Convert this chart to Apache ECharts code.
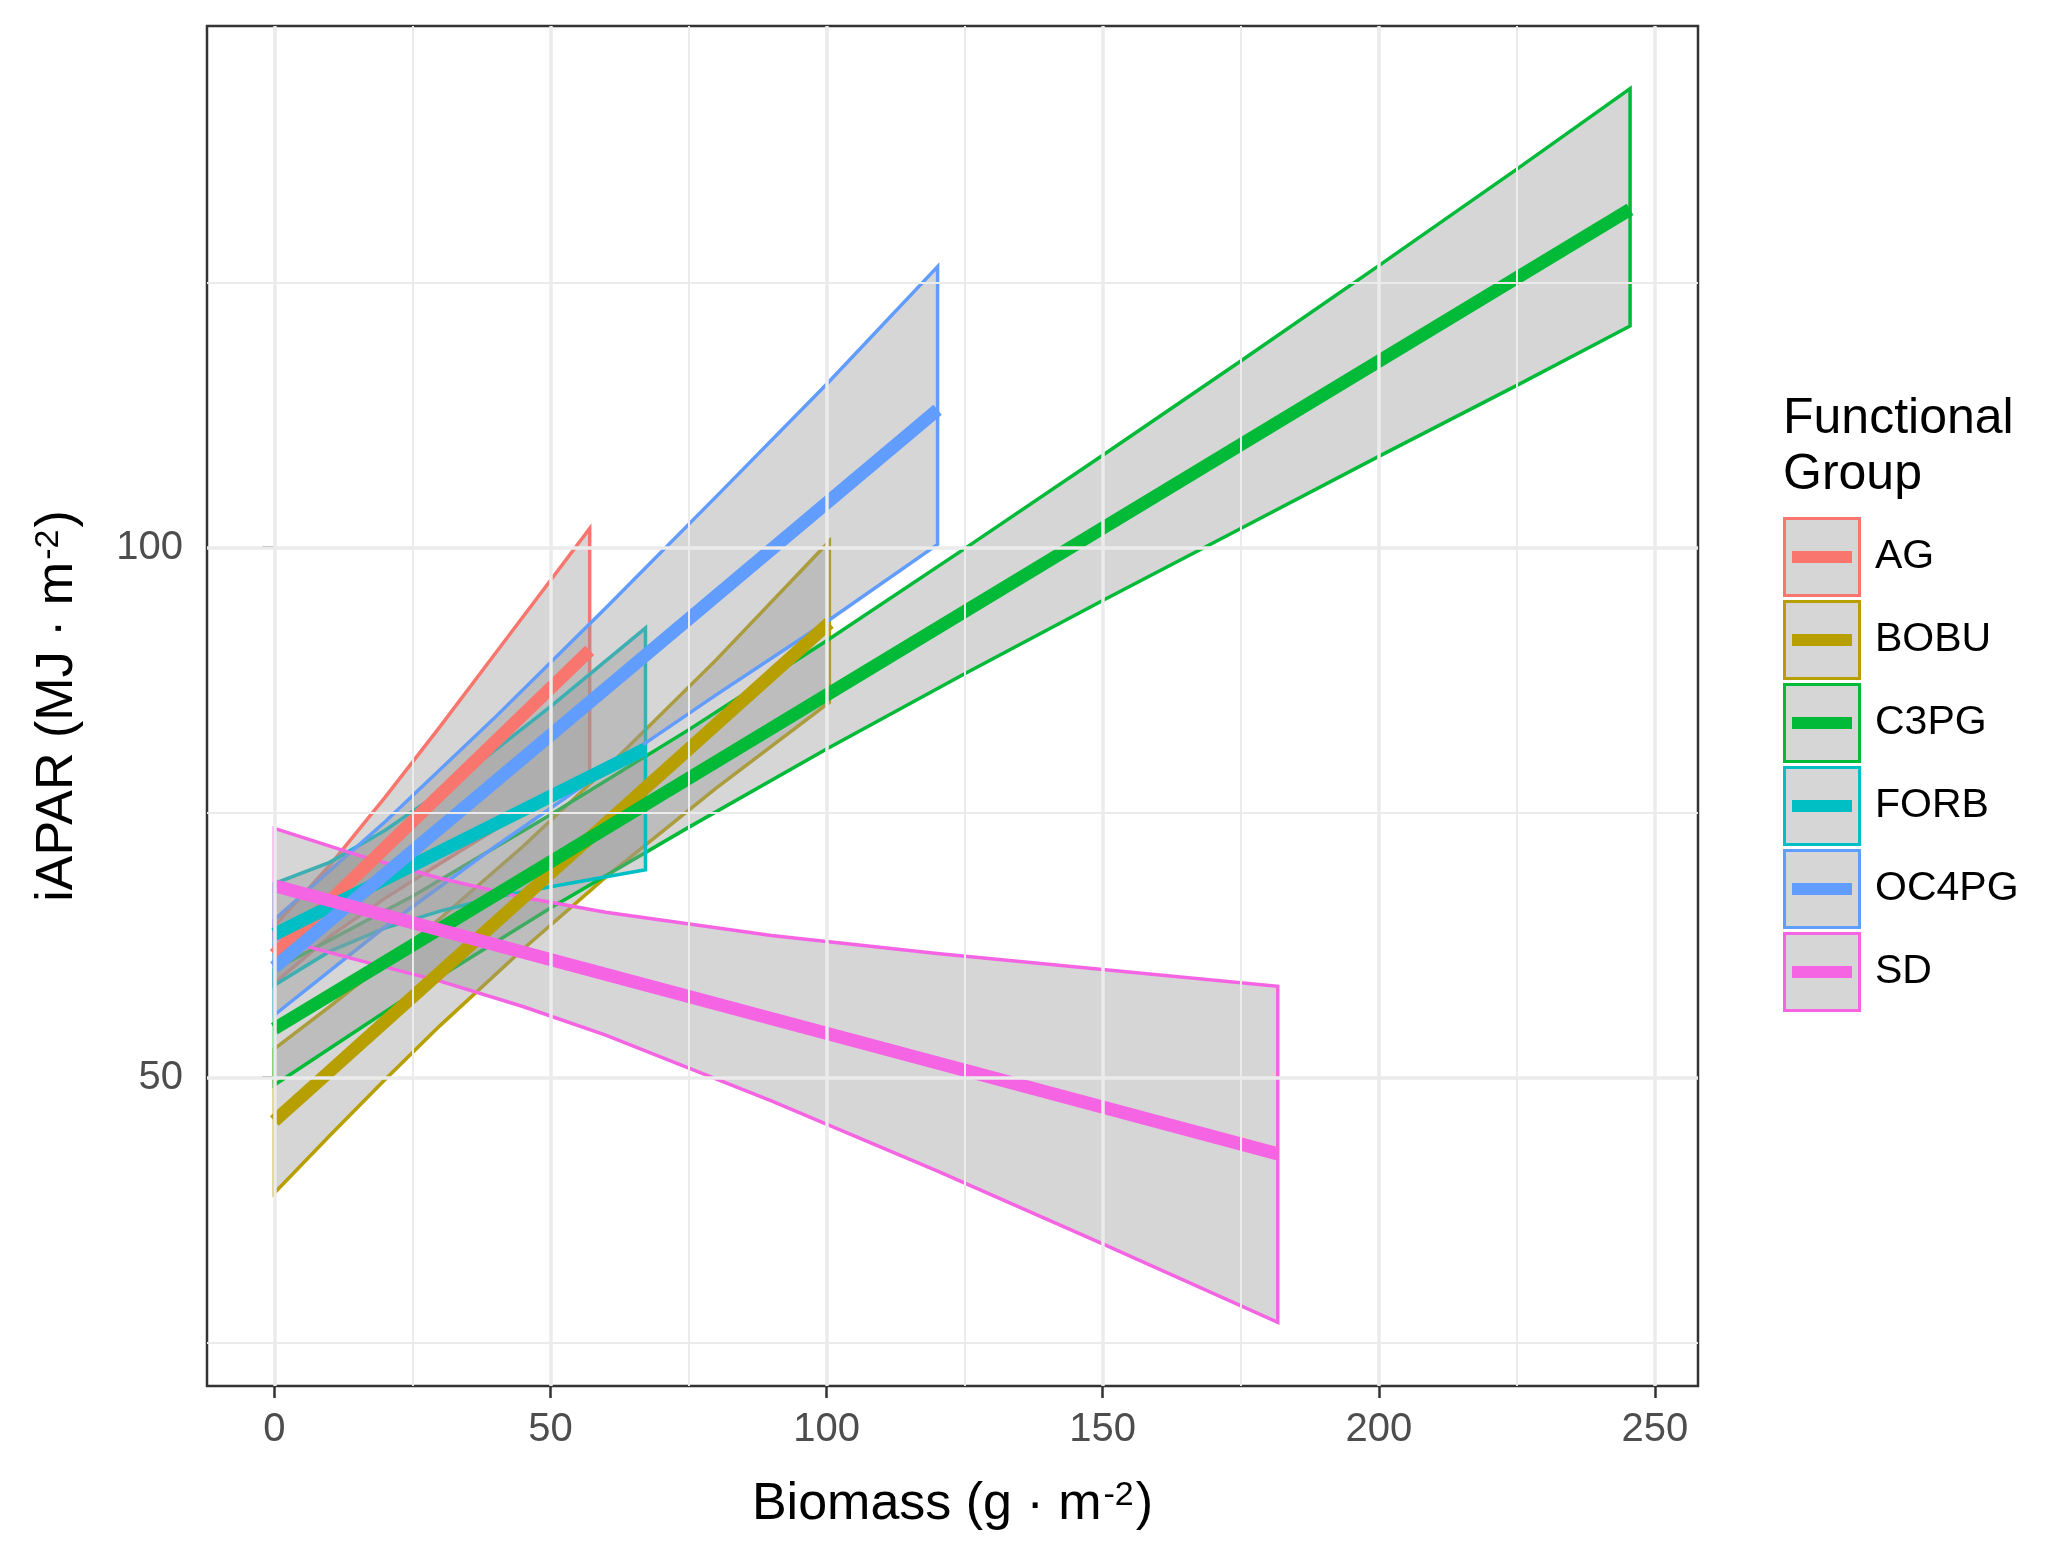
<!DOCTYPE html>
<html>
<head>
<meta charset="utf-8">
<script src="https://cdn.jsdelivr.net/npm/echarts@6/dist/echarts.min.js"></script>
<style>
  html, body { margin: 0; padding: 0; background: #ffffff; }
  #chart { width: 2045px; height: 1550px; }
</style>
</head>
<body>
<div id="chart"></div>
<script>
// ---- Data ----
const groups = ['AG', 'BOBU', 'C3PG', 'FORB', 'OC4PG', 'SD'];
const groupColors = ['#F8766D', '#B79F00', '#00BA38', '#00BFC4', '#619CFF', '#F564E3'];

// ribbon samples: x positions, lower and upper confidence edges; fit line end points
const AG_x = [0, 10, 20, 30, 40, 57.1];
const AG_lo = [58.9, 63.3, 66.9, 70.2, 73.4, 78.8];
const AG_hi = [64.3, 70.0, 76.4, 83.1, 90.0, 101.8];
const AG_fit = [[0, 61.6], [57.1, 90.3]];

const BOBU_x = [0, 10, 20, 30, 45, 60, 80, 100.5];
const BOBU_lo = [39.1, 44.5, 49.8, 54.9, 62.1, 68.9, 77.3, 85.4];
const BOBU_hi = [52.7, 56.7, 60.8, 65.0, 71.8, 79.1, 89.4, 100.6];
const BOBU_fit = [[0, 45.9], [100.5, 92.9]];

const C3PG_x = [0, 25, 50, 75, 100, 125, 150, 175, 200, 225, 245.5];
const C3PG_lo = [49.3, 57.9, 66.0, 73.6, 81.0, 88.1, 95.0, 101.8, 108.6, 115.3, 120.9];
const C3PG_hi = [60.2, 67.1, 74.8, 82.8, 91.2, 99.9, 108.7, 117.6, 126.6, 135.7, 143.3];
const C3PG_fit = [[0, 54.6], [245.5, 131.9]];

const FORB_x = [0, 10, 20, 30, 40, 50, 67.2];
const FORB_lo = [58.7, 61.9, 64.1, 65.7, 67.0, 68.0, 69.6];
const FORB_hi = [68.3, 70.3, 73.3, 76.9, 80.9, 85.0, 92.4];
const FORB_fit = [[0, 63.5], [67.2, 81.0]];

const OC4PG_x = [0, 20, 40, 60, 80, 100, 120.1];
const OC4PG_lo = [55.9, 64.2, 71.8, 79.0, 86.1, 93.0, 100.3];
const OC4PG_hi = [64.9, 74.1, 84.0, 94.3, 104.8, 115.4, 126.5];
const OC4PG_fit = [[0, 60.4], [120.1, 113.0]];

const SD_x = [0, 15, 30, 45, 60, 90, 120, 150, 181.7];
const SD_lo = [63.2, 61.1, 59.1, 56.7, 54.0, 47.8, 41.2, 34.3, 26.9];
const SD_hi = [73.5, 71.0, 68.8, 67.0, 65.6, 63.4, 61.7, 60.2, 58.6];
const SD_fit = [[0, 68.1], [181.7, 42.8]];

// axes
const xTicks = [0, 50, 100, 150, 200, 250];
const xMinorGrid = [25, 75, 125, 175, 225];
const yTicks = [50, 100];
const yMinorGrid = [25, 75, 125];
const xRange = [-12.2, 257.8];
const yRange = [20.9, 149.2];

// ---- Build chart ----
const ribbonData = {
  AG: [AG_x, AG_lo, AG_hi, AG_fit],
  BOBU: [BOBU_x, BOBU_lo, BOBU_hi, BOBU_fit],
  C3PG: [C3PG_x, C3PG_lo, C3PG_hi, C3PG_fit],
  FORB: [FORB_x, FORB_lo, FORB_hi, FORB_fit],
  OC4PG: [OC4PG_x, OC4PG_lo, OC4PG_hi, OC4PG_fit],
  SD: [SD_x, SD_lo, SD_hi, SD_fit]
};

const FONT = "'Liberation Sans', Arial, Helvetica, sans-serif";
const RIBBON_FILL = 'rgba(153,153,153,0.4)';

const series = [];
const gridMarks = [];
xTicks.forEach(v => gridMarks.push({ xAxis: v, lineStyle: { width: 3.5 } }));
xMinorGrid.forEach(v => gridMarks.push({ xAxis: v, lineStyle: { width: 2 } }));
yTicks.forEach(v => gridMarks.push({ yAxis: v, lineStyle: { width: 3.5 } }));
yMinorGrid.forEach(v => gridMarks.push({ yAxis: v, lineStyle: { width: 2 } }));
series.push({
  name: '_grid',
  type: 'line',
  data: [[xTicks[0], yTicks[0]]],
  symbol: 'none',
  lineStyle: { opacity: 0 },
  silent: true,
  z: 1,
  markLine: {
    silent: true,
    symbol: ['none', 'none'],
    label: { show: false },
    emphasis: { disabled: true },
    lineStyle: { color: '#ebebeb', type: 'solid' },
    data: gridMarks
  }
});

groups.forEach((g, gi) => {
  const [xs, lo, hi, fit] = ribbonData[g];
  const color = groupColors[gi];
  const rows = xs.map((x, i) => [x, lo[i], hi[i]]);
  series.push({
    name: g,
    type: 'custom',
    itemStyle: { color: color },
    encode: { x: 0, y: [1, 2] },
    data: rows,
    silent: true,
    z: 2,
    renderItem: function (params, api) {
      if (params.dataIndex !== 0) return null;
      const pts = [];
      for (let i = 0; i < rows.length; i++) pts.push(api.coord([rows[i][0], rows[i][1]]));
      for (let i = rows.length - 1; i >= 0; i--) pts.push(api.coord([rows[i][0], rows[i][2]]));
      return {
        type: 'polygon',
        shape: { points: pts },
        style: { fill: RIBBON_FILL, stroke: color, lineWidth: 3.5, lineJoin: 'miter' }
      };
    }
  });
  series.push({
    name: g,
    type: 'line',
    data: fit,
    symbol: 'none',
    showSymbol: false,
    silent: true,
    z: 2,
    lineStyle: { color: color, width: 13, cap: 'butt' },
    itemStyle: { color: color }
  });
});

const keyPath = 'path://M0,0H78V80H0Z M3,3V77H75V3Z M9,34H69V46H9Z';

const legendCommon = {
  orient: 'vertical',
  left: 1783,
  top: 517,
  padding: 0,
  itemWidth: 78,
  itemHeight: 80,
  itemGap: 3,
  selectedMode: true,
  data: groups,
  textStyle: { fontSize: 41, fontFamily: FONT, padding: [0, 0, 0, 9] }
};

const supStyle = { fontSize: 34, fontFamily: FONT, color: '#000000', verticalAlign: 'top', padding: [0, 2, 0, 2] };

const option = {
  backgroundColor: '#ffffff',
  animation: false,
  title: {
    text: 'Functional\nGroup',
    left: 1783,
    top: 391,
    padding: 0,
    textStyle: { fontSize: 50, lineHeight: 56, fontWeight: 'normal', color: '#000000', fontFamily: FONT }
  },
  legend: [
    Object.assign({}, legendCommon, {
      z: 4,
      icon: 'rect',
      itemStyle: { color: '#d6d6d6', borderWidth: 0 },
      textStyle: Object.assign({}, legendCommon.textStyle, { color: 'rgba(0,0,0,0)' })
    }),
    Object.assign({}, legendCommon, {
      z: 5,
      icon: keyPath,
      itemStyle: { borderWidth: 0 },
      textStyle: Object.assign({}, legendCommon.textStyle, { color: '#000000' })
    })
  ],
  grid: {
    left: 207,
    right: 347,
    top: 26,
    bottom: 164,
    show: true,
    borderColor: '#333333',
    borderWidth: 2.5,
    backgroundColor: 'rgba(0,0,0,0)',
    containLabel: false
  },
  xAxis: {
    type: 'value',
    min: xRange[0],
    max: xRange[1],
    name: '{a|Biomass (g · m}{s|-2}{a|)}',
    nameLocation: 'middle',
    nameGap: 93,
    nameTextStyle: {
      rich: {
        a: { fontSize: 52, fontFamily: FONT, color: '#000000' },
        s: supStyle
      }
    },
    axisLine: { show: false },
    splitLine: { show: false },
    axisTick: { show: true, customValues: xTicks, length: 12, lineStyle: { color: '#333333', width: 2.5 } },
    axisLabel: { customValues: xTicks, fontSize: 40, color: '#4d4d4d', fontFamily: FONT, margin: 24 }
  },
  yAxis: {
    type: 'value',
    min: yRange[0],
    max: yRange[1],
    name: '{a|iAPAR (MJ · m}{s|-2}{a|)}',
    nameLocation: 'middle',
    nameRotate: 90,
    nameGap: 123,
    nameTextStyle: {
      rich: {
        a: { fontSize: 52, fontFamily: FONT, color: '#000000' },
        s: supStyle
      }
    },
    axisLine: { show: false },
    splitLine: { show: false },
    axisTick: { show: true, customValues: yTicks, length: 12, lineStyle: { color: '#333333', width: 2.5 } },
    axisLabel: { customValues: yTicks, fontSize: 40, color: '#4d4d4d', fontFamily: FONT, margin: 24 }
  },
  series: series
};

const chart = echarts.init(document.getElementById('chart'), null, { renderer: 'canvas' });
chart.setOption(option);
</script>
</body>
</html>
